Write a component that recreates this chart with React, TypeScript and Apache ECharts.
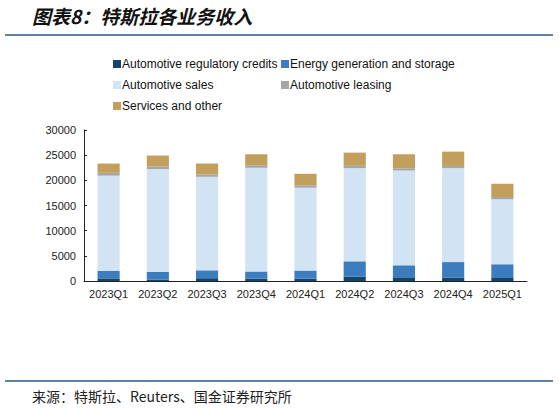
import React, { useEffect, useRef } from "react";
import * as echarts from "echarts";

const quarters = ["2023Q1", "2023Q2", "2023Q3", "2023Q4", "2024Q1", "2024Q2", "2024Q3", "2024Q4", "2025Q1"];
const regulatoryCredits = [521, 282, 554, 433, 442, 890, 739, 692, 595];
const energy = [1529, 1509, 1559, 1438, 1635, 3014, 2376, 3061, 2730];
const autoSales = [18878, 20419, 18582, 20630, 16460, 18530, 18831, 18659, 12925];
const autoLeasing = [564, 567, 489, 500, 476, 458, 446, 447, 447];
const services = [1837, 2150, 2166, 2166, 2288, 2608, 2790, 2848, 2638];

const seriesNames = [
	"Automotive regulatory credits",
	"Energy generation and storage",
	"Automotive sales",
	"Automotive leasing",
	"Services and other",
];
const seriesData = [regulatoryCredits, energy, autoSales, autoLeasing, services];
const colors = ["#12456a", "#3c7dc0", "#d2e4f3", "#a6a6a6", "#c29f5d"];

const FONT = "'Liberation Sans', Arial, sans-serif";

// legend slots: [left, top]
const legendPos = [
	[113, 58],
	[281, 58],
	[113, 79],
	[281, 79],
	[113, 100],
];

export default function App() {
	const chartRef = useRef<HTMLDivElement>(null);

	useEffect(() => {
		if (!chartRef.current) return;
		const chart = echarts.init(chartRef.current, null, { renderer: "svg" });

		chart.setOption({
			animation: false,
			textStyle: { fontFamily: FONT },
			legend: seriesNames.map((name, i) => ({
				data: [name],
				left: legendPos[i][0],
				top: legendPos[i][1],
				itemWidth: 8,
				itemHeight: 8,
				itemGap: 0,
				padding: 0,
				icon: "rect",
				textStyle: { fontSize: 12, color: "#111", fontFamily: FONT, padding: [0, 0, 0, -4] },
			})),
			grid: { left: 84, right: 32, top: 130, bottom: 130 },
			xAxis: {
				type: "category",
				data: quarters,
				axisLine: { lineStyle: { color: "#222", width: 1 } },
				axisTick: { inside: true, length: 3, lineStyle: { color: "#222" } },
				axisLabel: { color: "#222", fontSize: 11, margin: 7, interval: 0, fontFamily: FONT },
			},
			yAxis: {
				type: "value",
				min: 0,
				max: 30000,
				interval: 5000,
				splitLine: { show: false },
				axisLine: { show: true, lineStyle: { color: "#222", width: 1 } },
				axisTick: { show: true, inside: true, length: 3, lineStyle: { color: "#222" } },
				axisLabel: { color: "#222", fontSize: 11, margin: 8, fontFamily: FONT, formatter: (v: number) => String(v) },
			},
			series: seriesNames.map((name, i) => ({
				name,
				type: "bar",
				stack: "total",
				data: seriesData[i],
				barWidth: "45%",
				itemStyle: { color: colors[i] },
			})),
			graphic: [
				{
					type: "text",
					left: 32,
					top: 6,
					style: {
						text: "图表8：特斯拉各业务收入",
						font: "italic bold 19px 'Noto Sans CJK SC', sans-serif",
						fill: "#111",
					},
				},
				{
					type: "line",
					shape: { x1: 5, y1: 35, x2: 553, y2: 35 },
					style: { stroke: "#2a5a84", lineWidth: 1.5 },
				},
				{
					type: "line",
					shape: { x1: 5, y1: 381, x2: 553, y2: 381 },
					style: { stroke: "#2a5a84", lineWidth: 1.5 },
				},
				{
					type: "text",
					left: 32,
					top: 389,
					style: {
						text: "来源：特斯拉、Reuters、国金证券研究所",
						font: "14px 'Noto Sans CJK SC', sans-serif",
						fill: "#222",
					},
				},
			],
		});

		return () => chart.dispose();
	}, []);

	return <div ref={chartRef} style={{ position: "fixed", left: 0, top: 0, width: 559, height: 411, background: "#fff" }} />;
}
